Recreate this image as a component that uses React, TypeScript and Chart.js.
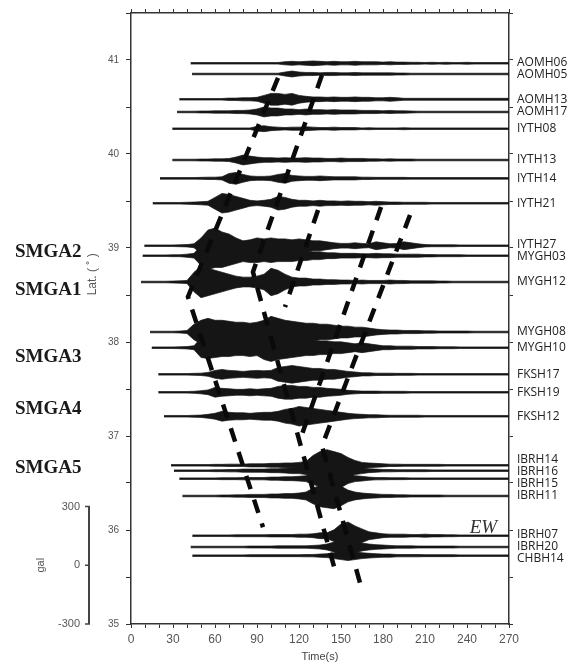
import React, { useEffect, useRef } from 'react';
import { Chart, registerables } from 'chart.js';

Chart.register(...registerables);

// ---------------- data ----------------
const STATIONS = ['AOMH06', 'AOMH05', 'AOMH13', 'AOMH17', 'IYTH08', 'IYTH13', 'IYTH14', 'IYTH21', 'IYTH27', 'MYGH03', 'MYGH12', 'MYGH08', 'MYGH10', 'FKSH17', 'FKSH19', 'FKSH12', 'IBRH14', 'IBRH16', 'IBRH15', 'IBRH11', 'IBRH07', 'IBRH20', 'CHBH14'];
const LATS = [40.965, 40.851, 40.582, 40.447, 40.269, 39.936, 39.741, 39.476, 39.024, 38.918, 38.638, 38.106, 37.939, 37.656, 37.465, 37.21, 36.688, 36.631, 36.546, 36.362, 35.939, 35.819, 35.727];
const STARTS = [42.6, 43.6, 34.5, 32.9, 29.5, 29.5, 20.7, 15.5, 9.5, 8.3, 7.1, 13.6, 14.8, 19.5, 19.5, 23.6, 28.6, 30.7, 34.5, 36.7, 43.8, 42.6, 43.8];

// envelope amplitude (gal) every 5 s, t = 0..270
const ENV_STEP = 5;
const ENV_AOMH06 = [0,0,0,0,0,0,0,0,0, 4,4,4,4,4,4,4,4,4,4,4,4,4, 8,10,8,10,12,10,8,10,8,8,10,8,8,8,6,8,6,6, 5,5,4,5,4,5,4,4,5,4,4,4,4,4,4];
const ENV_AOMH05 = [0,0,0,0,0,0,0,0,0, 4,4,4,4,4,4,4,4,4,4,4,4,4, 10,15,10, 8,8,6,8,8,6,6,8,6,6,6,6,6,5,5, 4,4,4,4,4,4,4,4,4,4,4,4,4,4,4];
const ENV_AOMH13 = [0,0,0,0,0,0,0, 4,4,4,4,4,4,4, 6,6,8,8,10, 20,30,30,25,30,20,15, 12,12,10,12,10,10,12,10,10,8,8,10,8, 5,5,5,5,5,5,5,5,5,5,5,5,5,5,5,5];
const ENV_AOMH17 = [0,0,0,0,0,0,0, 4,4,4,5,5,6,6,6,8,8,10, 15,25,20,20,15,15, 12,15,12,12,10,12,10,10,10,8,8, 8,6,8,6,6,5, 4,4,4,4,4,4,4,4,4,4,4,4,4,4];
const ENV_IYTH08 = [0,0,0,0,0,0, 4,4,4,4,4,4,4,4,4,4,4,4, 12,15,10,8, 6,8,8,10,8,6,6,8,6,6,6, 4,5,4,4,4,4,5,4,4,4,4,4,4,4,4,4,4,4,4,4,4,4];
const ENV_IYTH13 = [0,0,0,0,0,0, 4,4,4,4,5,5,6,6,8, 15,25,20,15,12, 12,10,12,10,10,12,10,10,8,8,10,8,8,8, 6,6,5,6,5,5,5, 4,4,4,4,4,4,4,4,4,4,4,4,4,4];
const ENV_IYTH14 = [0,0,0,0,0, 4,4,4,4,4,5,6,6,8, 25,30,20,12, 10,10,12,20, 25,15, 12,10,10,12,10,8,8,8,8, 6,6,5,5,5,5,5, 4,4,4,4,4,4,4,4,4,4,4,4,4,4,4];
const ENV_IYTH21 = [0,0,0,0, 4,4,4,4,5,6,8,10, 30,50,45,35,25,15, 12,15,20,35,30,20, 15,15,12,15,12,12,10,12,10,10,8,10,8, 6,6,5,5,5,5, 4,4,4,4,4,4,4,4,4,4,4,4];
const ENV_IYTH27 = [0,0, 4,4,4,4,4,5,6,10, 40,80,90,70,60,40,25, 30,40,35,40,35,35,30,35,30,25,25,20, 15,12,12,15,12,10,20,15,10,12,20,15,10, 6,5,5,5,5, 4,4,4,4,4,4,4,4];
const ENV_MYGH03 = [0,0, 4,4,4,4,5,5,8,12, 50,70,60,60,50,40,30, 35,35,30,35,30,30,30,25,25,20,20,15, 15,12,12,12,10,10,12,10,10,8,8,8,8, 6,6,5,5,5,5, 4,4,4,4,4,4,4];
const ENV_MYGH12 = [0,0, 4,4,4,4,5,6,8, 50,80,70,60,50,40,30, 25,25,30,40, 70,60,40, 25,20,20,15,15,12,12, 10,10,8,10,8,8,8,10,8,8,6,6,6,6, 5,5, 4,4,4,4,4,4,4,4,4];
const ENV_MYGH08 = [0,0,0, 4,4,4,4,5,8, 40,60,70,60,60,55,50,50,45,50, 60,80,70,60,55,50, 45,45,40,40,35,30,30,25, 25,20,15,12,10,10,8,8,8, 6,6,5,5,5,5,5, 4,4,4,4,4,4];
const ENV_MYGH10 = [0,0,0, 4,4,4,4,5,6,10, 50,55,50,45,45,40,40,45,40, 60,70,60,55,50,45, 40,40,35,35,30,30,25,20, 25,20,15,10,10,8,8,8, 6,6,6,5,5,5, 4,4,4,4,4,4,4,4];
const ENV_FKSH17 = [0,0,0,0, 4,4,4,4,4,5,6,10, 20,25,20,18,15,18,20,18,20, 35,40,45,40,35,30,30, 25,25,20,15,12, 8,8,6,6,6,5,5,5, 4,4,4,4,4,4,4,4,4,4,4,4,4,4];
const ENV_FKSH19 = [0,0,0,0, 4,4,4,4,4,5,8,12, 25,20,18,15,15,18,15,18,20, 30,35,35,30,30,25,25, 20,18,15,10,8, 6,6,6,5,5,5,5,4, 4,4,4,4,4,4,4,4,4,4,4,4,4,4];
const ENV_FKSH12 = [0,0,0,0,0, 4,4,4,4,5,6,10,15, 25,20,18,18,15,18,20,20,25, 35,40,50,45,40,35,30, 25,20,15,12,10,8,8, 6,5,5,5,5,5, 4,4,4,4,4,4,4,4,4,4,4,4,4];
const ENV_IBRH14 = [0,0,0,0,0,0, 4,4,4,4,4,4,5,5,6,6,6,8,8,8, 10,10,12,12,15,20, 50,70,80,70,60,40, 25,15,12,10,8, 6,6,5,5,5,5,5,5, 4,4,4,4,4,4,4,4,4,4];
const ENV_IBRH16 = [0,0,0,0,0,0,0, 4,4,4,4,4,5,5,6,6,8,8,8,8, 10,10,12,15,15,20, 40,50,55,50,45,30, 20,15,10,8,6, 6,5,5,5,5,5, 4,4,4,4,4,4,4,4,4,4,4,4];
const ENV_IBRH15 = [0,0,0,0,0,0,0, 4,4,4,4,4,4,5,5,5,6,6,6,6, 8,8,10,10,12,15, 30,40,50,60,45,25, 15,12,8,6,6, 5,5,5, 4,4,4,4,4,4,4,4,4,4,4,4,4,4,4];
const ENV_IBRH11 = [0,0,0,0,0,0,0,0, 4,4,4,4,4,5,5,6,6,8,8,8, 10,10,12,12,15,20, 40,55,60,65,50,30, 20,15,12,10,8,8, 6,6,5,5,5,5,5, 4,4,4,4,4,4,4,4,4,4];
const ENV_IBRH07 = [0,0,0,0,0,0,0,0,0, 4,4,4,4,4,4,5,5,5,5,5,6,6,6,6,8, 8,10,15,15, 30,60,70,50,35, 20,15,10,8, 8,8,6,6,8,6,6,5,5, 4,4,4,4,4,4,4,4];
const ENV_IBRH20 = [0,0,0,0,0,0,0,0,0, 4,4,4,4,4,4,4,4,5,5,5,5,6,6,6,6, 6,8,10,15, 25,40,40,30,20, 15,12,10,8, 6,6,6,5,5,5,5,5,5, 4,4,4,4,4,4,4,4];
const ENV_CHBH14 = [0,0,0,0,0,0,0,0,0, 4,4,4,4,4,4,4,4,5,5,5,5,5,5,5,5, 6,6,8,10, 15,20,25,20,15, 12,10,8,8, 6,6,6,6,5,5,5,5,5, 4,4,4,4,4,4,4,4];
const ENVELOPES = [ENV_AOMH06, ENV_AOMH05, ENV_AOMH13, ENV_AOMH17, ENV_IYTH08, ENV_IYTH13, ENV_IYTH14, ENV_IYTH21, ENV_IYTH27, ENV_MYGH03, ENV_MYGH12, ENV_MYGH08, ENV_MYGH10, ENV_FKSH17, ENV_FKSH19, ENV_FKSH12, ENV_IBRH14, ENV_IBRH16, ENV_IBRH15, ENV_IBRH11, ENV_IBRH07, ENV_IBRH20, ENV_CHBH14];

// amplitude scale: gal per degree of latitude (from the 300 gal bar)
const GAL_PER_DEG = 480;
const GAL_TICKS = [300, 0, -300];
const GAL_ZERO_LAT = 35.625;

// rupture-front dashed lines (time s, latitude)
const DASH_SMGA2_T = [105.0, 40.7, 94.3];
const DASH_SMGA2_LAT = [40.81, 38.48, 36.03];
const DASH_SMGA1_T = [136.4, 87.1, 145.7];
const DASH_SMGA1_LAT = [40.84, 38.745, 35.574];
const DASH_SMGA3_T = [133.6, 110.0];
const DASH_SMGA3_LAT = [39.404, 38.372];
const DASH_SMGA4_T = [178.6, 120.0];
const DASH_SMGA4_LAT = [39.436, 36.926];
const DASH_SMGA5_T = [199.3, 136.4, 163.6];
const DASH_SMGA5_LAT = [39.351, 36.894, 35.436];
const DASH_T = [DASH_SMGA2_T, DASH_SMGA1_T, DASH_SMGA3_T, DASH_SMGA4_T, DASH_SMGA5_T];
const DASH_LAT = [DASH_SMGA2_LAT, DASH_SMGA1_LAT, DASH_SMGA3_LAT, DASH_SMGA4_LAT, DASH_SMGA5_LAT];

const SMGA_LABELS = ['SMGA2', 'SMGA1', 'SMGA3', 'SMGA4', 'SMGA5'];
const SMGA_LATS = [38.96, 38.55, 37.84, 37.29, 36.66];

const X_MIN = 0, X_MAX = 270, X_LABEL_STEP = 30, X_TICK_STEP = 10;
const Y_MIN = 35, Y_MAX = 41.5, Y_TICK_STEP = 0.5;

const EW_T = 261.5, EW_LAT = 36.02;
const LAT_TITLE_LAT = 38.72;

// --------------------------------------
function buildDatasets() {
  const ds: any[] = [];
  STATIONS.forEach((name, s) => {
    const env = ENVELOPES[s];
    const lat = LATS[s];
    const up: any[] = [];
    const lo: any[] = [];
    const first = Math.ceil(STARTS[s] / ENV_STEP);
    up.push({ x: STARTS[s], y: lat + env[first] / GAL_PER_DEG });
    lo.push({ x: STARTS[s], y: lat - env[first] / GAL_PER_DEG });
    for (let i = first; i < env.length; i++) {
      const t = i * ENV_STEP;
      if (t <= STARTS[s]) continue;
      up.push({ x: t, y: lat + env[i] / GAL_PER_DEG });
      lo.push({ x: t, y: lat - env[i] / GAL_PER_DEG });
    }
    ds.push({ label: name + ' +', data: up, borderColor: '#151515', borderWidth: 0.7, pointRadius: 0, fill: false, tension: 0, order: 2 });
    ds.push({ label: name + ' -', data: lo, borderColor: '#151515', borderWidth: 0.7, pointRadius: 0, fill: '-1', backgroundColor: '#151515', tension: 0, order: 2 });
  });
  DASH_T.forEach((ts, k) => {
    ds.push({
      label: 'front' + k,
      data: ts.map((t, j) => ({ x: t, y: DASH_LAT[k][j] })),
      borderColor: '#0a0a0a', borderWidth: 4.5, borderDash: [14, 11], borderCapStyle: 'butt',
      pointRadius: 0, fill: false, tension: 0, order: -1,
    });
  });
  return ds;
}

const annotations = {
  id: 'annotations',
  afterDraw(chart: any) {
    const { ctx, chartArea } = chart;
    const x = chart.scales.x;
    const y = chart.scales.y;
    ctx.save();
    // station labels (de-overlapped)
    const ys = LATS.map((l) => y.getPixelForValue(l));
    const G = 12;
    for (let it = 0; it < 80; it++) {
      for (let i = 1; i < ys.length; i++) {
        const d = ys[i] - ys[i - 1];
        if (d < G) { const sh = (G - d) / 2; ys[i - 1] -= sh; ys[i] += sh; }
      }
    }
    ctx.font = '12px "Open Sans"';
    ctx.fillStyle = '#222';
    ctx.textAlign = 'left';
    ctx.textBaseline = 'middle';
    STATIONS.forEach((s, i) => ctx.fillText(s, chartArea.right + 8, ys[i]));

    // SMGA labels
    ctx.font = 'bold 19px "Liberation Serif"';
    ctx.fillStyle = '#1a1a1a';
    SMGA_LABELS.forEach((s, i) => ctx.fillText(s, 15, y.getPixelForValue(SMGA_LATS[i])));

    // EW
    ctx.font = 'italic 19px "Liberation Serif"';
    ctx.fillStyle = '#333';
    ctx.textAlign = 'right';
    ctx.fillText('EW', x.getPixelForValue(EW_T), y.getPixelForValue(EW_LAT));

    // Lat title
    ctx.save();
    ctx.translate(93, y.getPixelForValue(LAT_TITLE_LAT));
    ctx.rotate(-Math.PI / 2);
    ctx.font = '12px "Liberation Sans"';
    ctx.fillStyle = '#555';
    ctx.textAlign = 'center';
    ctx.fillText('Lat. ( ˚ )', 0, 0);
    ctx.restore();

    // gal scale bar
    const bx = chartArea.left - 42;
    const gy = (v: number) => y.getPixelForValue(GAL_ZERO_LAT + v / GAL_PER_DEG);
    ctx.strokeStyle = '#444';
    ctx.lineWidth = 2;
    ctx.beginPath();
    ctx.moveTo(bx, gy(GAL_TICKS[0]));
    ctx.lineTo(bx, gy(GAL_TICKS[GAL_TICKS.length - 1]));
    ctx.stroke();
    ctx.lineWidth = 1.5;
    ctx.font = '11px "Liberation Sans"';
    ctx.fillStyle = '#555';
    ctx.textAlign = 'right';
    GAL_TICKS.forEach((v) => {
      ctx.beginPath();
      ctx.moveTo(bx - 4, gy(v));
      ctx.lineTo(bx + 1, gy(v));
      ctx.stroke();
      ctx.fillText(String(v), bx - 9, gy(v));
    });
    ctx.save();
    ctx.translate(41, gy(0));
    ctx.rotate(-Math.PI / 2);
    ctx.textAlign = 'center';
    ctx.fillText('gal', 0, 0);
    ctx.restore();
    ctx.restore();
  },
};

export default function App() {
  const ref = useRef<HTMLCanvasElement | null>(null);
  useEffect(() => {
    if (!ref.current) return;
    Chart.defaults.font.family = '"Liberation Sans", Arial, sans-serif';
    const grid = { drawOnChartArea: false, drawTicks: true, tickLength: 4, color: '#333', tickColor: '#333', lineWidth: 1 };
    const border = { display: true, color: '#333', width: 1.5 };
    const chart = new Chart(ref.current, {
      type: 'line',
      data: { datasets: buildDatasets() },
      options: {
        animation: false,
        responsive: false,
        parsing: true,
        normalized: true,
        layout: { padding: { left: 85, right: 0, top: 0, bottom: 0 } },
        plugins: { legend: { display: false }, tooltip: { enabled: false }, title: { display: false } },
        scales: {
          x: {
            type: 'linear', position: 'bottom', min: X_MIN, max: X_MAX,
            ticks: { stepSize: X_TICK_STEP, autoSkip: false, maxRotation: 0, color: '#555', font: { size: 12 }, padding: 4,
              callback: (v: any) => (Number(v) % X_LABEL_STEP === 0 ? String(v) : '') },
            grid, border,
            title: { display: true, text: 'Time(s)', color: '#444', font: { size: 11 }, padding: 0 },
            afterFit: (s: any) => { s.height = 40; },
          },
          x2: {
            type: 'linear', position: 'top', min: X_MIN, max: X_MAX,
            ticks: { stepSize: X_TICK_STEP, autoSkip: false, maxRotation: 0, padding: 0, callback: () => '' },
            grid, border,
            afterFit: (s: any) => { s.height = 13; },
          },
          y: {
            type: 'linear', position: 'left', min: Y_MIN, max: Y_MAX,
            ticks: { stepSize: Y_TICK_STEP, autoSkip: false, color: '#555', font: { size: 10 }, padding: 7,
              callback: (v: any) => (Number.isInteger(Number(v)) ? String(v) : '') },
            grid: { ...grid, tickLength: 5 }, border,
            afterFit: (s: any) => { s.width = 46; },
          },
          y2: {
            type: 'linear', position: 'right', min: Y_MIN, max: Y_MAX,
            ticks: { stepSize: Y_TICK_STEP, autoSkip: false, padding: 0, callback: () => '' },
            grid, border,
            afterFit: (s: any) => { s.width = 59; },
          },
        },
      } as any,
      plugins: [annotations],
    });
    return () => chart.destroy();
  }, []);
  return (
    <div style={{ position: 'fixed', left: 0, top: 0, width: 568, height: 664, background: '#fff' }}>
      <canvas ref={ref} width={568} height={664} style={{ display: 'block', width: 568, height: 664 }} />
    </div>
  );
}
